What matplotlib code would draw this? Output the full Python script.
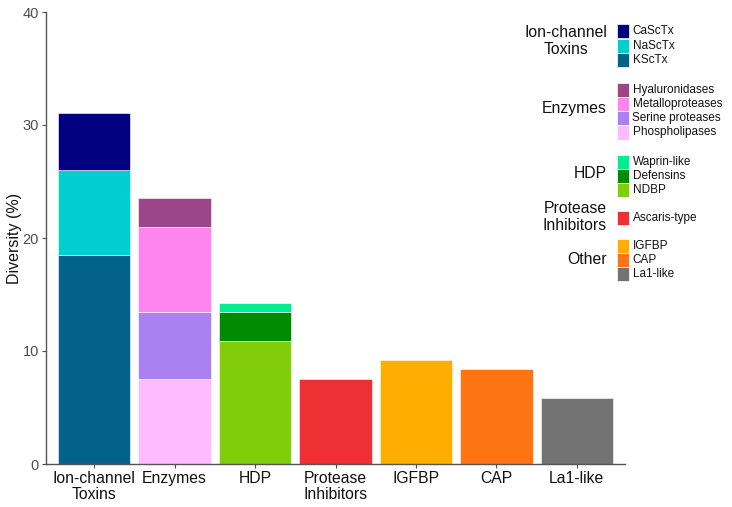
import matplotlib.pyplot as plt
from matplotlib.patches import Rectangle

plt.rcParams['font.family'] = ['Liberation Sans', 'DejaVu Sans']

categories = ["Ion-channel\nToxins", "Enzymes", "HDP", "Protease\nInhibitors",
              "IGFBP", "CAP", "La1-like"]

# stacked segments, bottom to top, per category (diversity %)
ion_names = ["KScTx", "NaScTx", "CaScTx"]
ion_vals = [18.49, 7.56, 5.04]
ion_cols = ["#03628A", "#00CED1", "#000080"]

enz_names = ["Phospholipases", "Serine proteases", "Metalloproteases", "Hyaluronidases"]
enz_vals = [7.56, 5.88, 7.56, 2.52]
enz_cols = ["#FFBBFF", "#AB80F0", "#FF85EE", "#9C4589"]

hdp_names = ["NDBP", "Defensins", "Waprin-like"]
hdp_vals = [10.92, 2.52, 0.84]
hdp_cols = ["#82CD0A", "#008B00", "#00EE90"]

pi_names = ["Ascaris-type"]
pi_vals = [7.56]
pi_cols = ["#EE2F33"]

other_names = ["IGFBP", "CAP", "La1-like"]
other_vals = [9.24, 8.40, 5.88]
other_cols = ["#FFAE00", "#FF7412", "#737373"]

stacks = [
    (0, ion_vals, ion_cols),
    (1, enz_vals, enz_cols),
    (2, hdp_vals, hdp_cols),
    (3, pi_vals, pi_cols),
    (4, other_vals[:1], other_cols[:1]),
    (5, other_vals[1:2], other_cols[1:2]),
    (6, other_vals[2:], other_cols[2:]),
]

W, H = 732, 507
fig = plt.figure(figsize=(W / 100, H / 100), dpi=100)
ax = fig.add_axes([46 / W, 43 / H, (625 - 46) / W, (464 - 12) / H])

for x, vals, cols in stacks:
    bottom = 0
    for v, c in zip(vals, cols):
        ax.bar(x, v, bottom=bottom, width=0.9, color=c, edgecolor="white", linewidth=0.4)
        bottom += v

ax.set_xlim(-0.6, 6.6)
ax.set_ylim(0, 40)
ax.set_yticks([0, 10, 20, 30, 40])
ax.set_xticks(range(len(categories)))
ax.set_xticklabels(categories, fontsize=11.3, color="#111111", linespacing=1.1)
ax.tick_params(axis="y", labelsize=10.5, labelcolor="#4D4D4D", color="#4D4D4D",
               length=3, width=0.8, pad=2)
ax.tick_params(axis="x", color="#4D4D4D", length=3, width=0.8, pad=2)
for s in ["top", "right"]:
    ax.spines[s].set_visible(False)
for s in ["left", "bottom"]:
    ax.spines[s].set_color("#555555")
    ax.spines[s].set_linewidth(1.0)
ax.set_ylabel("Diversity (%)", fontsize=11.5, color="#111111")
ax.yaxis.set_label_coords(-0.041, 0.5)


# manual legend, positions in pixels
def fx(px):
    return px / W


def fy(py):
    return 1 - py / H


groups = [
    ("Ion-channel\nToxins", 41, [("CaScTx", "#000080", 31), ("NaScTx", "#00CED1", 46),
                                 ("KScTx", "#03628A", 60)]),
    ("Enzymes", 109, [(enz_names[3], enz_cols[3], 90), (enz_names[2], enz_cols[2], 104),
                      (enz_names[1], enz_cols[1], 118), (enz_names[0], enz_cols[0], 132.5)]),
    ("HDP", 174, [(hdp_names[2], hdp_cols[2], 162), (hdp_names[1], hdp_cols[1], 176),
                  (hdp_names[0], hdp_cols[0], 190)]),
    ("Protease\nInhibitors", 217, [(pi_names[0], pi_cols[0], 218)]),
    ("Other", 259, [(other_names[0], other_cols[0], 246), (other_names[1], other_cols[1], 260),
                    (other_names[2], other_cols[2], 274)]),
]

for title, ty, items in groups:
    fig.text(fx(607), fy(ty), title, ha="right", va="center", multialignment="center",
             fontsize=11.3, color="#111111", linespacing=1.1)
    for name, col, cy in items:
        fig.add_artist(Rectangle((fx(616.5), fy(cy + 7)), 12.5 / W, 14 / H,
                                 transform=fig.transFigure, facecolor=col,
                                 edgecolor="white", linewidth=0.5))
        fig.text(fx(632.5), fy(cy), name, ha="left", va="center",
                 fontsize=8.5, color="#111111")

fig.savefig("out.png", dpi=100)
